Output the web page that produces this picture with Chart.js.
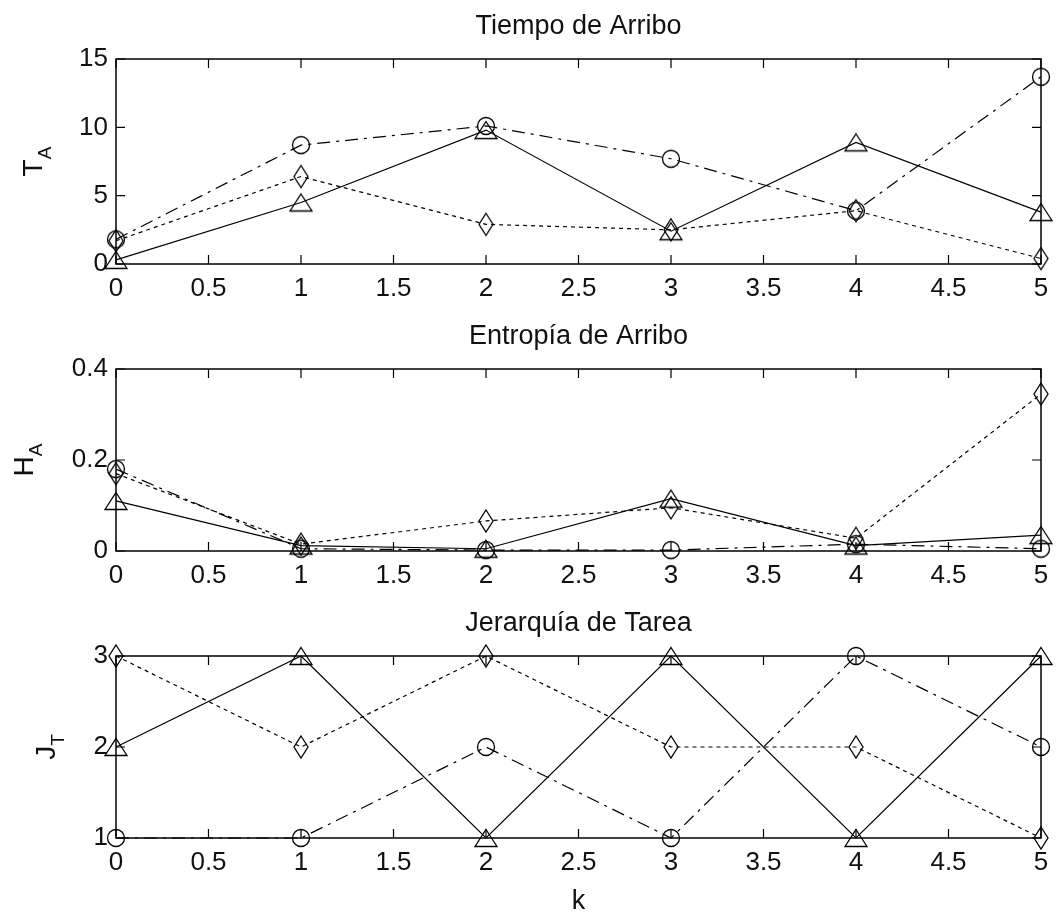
<!DOCTYPE html>
<html>
<head>
<meta charset="utf-8">
<script src="https://cdn.jsdelivr.net/npm/chart.js@4.4.0/dist/chart.umd.min.js"></script>
<style>
  body { margin: 0; background: #fff; width: 1058px; height: 916px; overflow: hidden; position: relative; }
  canvas { position: absolute; left: 0; }
</style>
</head>
<body>
<canvas id="c1" width="1058" height="310" style="top:0px"></canvas>
<canvas id="c2" width="1058" height="300" style="top:310px"></canvas>
<canvas id="c3" width="1058" height="306" style="top:610px"></canvas>
<script>
// values
const kValues = [0, 1, 2, 3, 4, 5];

const tiempoTri  = [0.3, 4.5, 9.8, 2.4, 8.9, 3.8];
const tiempoCirc = [1.8, 8.7, 10.1, 7.7, 3.9, 13.7];
const tiempoDiam = [1.7, 6.4, 2.9, 2.5, 3.9, 0.4];

const entropiaTri  = [0.11, 0.012, 0.005, 0.115, 0.012, 0.035];
const entropiaCirc = [0.18, 0.005, 0.002, 0.002, 0.015, 0.005];
const entropiaDiam = [0.17, 0.015, 0.066, 0.095, 0.028, 0.345];

const jerarquiaTri  = [2, 3, 1, 3, 1, 3];
const jerarquiaCirc = [1, 1, 2, 1, 3, 2];
const jerarquiaDiam = [3, 2, 3, 2, 2, 1];

const FONT = '"Liberation Sans", Arial, sans-serif';

// hollow markers like matlab's ^ o d
function makeMarker(kind) {
  const c = document.createElement('canvas');
  c.width = 28; c.height = 28;
  const g = c.getContext('2d');
  g.strokeStyle = '#000';
  g.lineWidth = 1.3;
  g.beginPath();
  if (kind === 'circle') {
    g.arc(14, 14, 8.5, 0, Math.PI * 2);
  } else if (kind === 'triangle') {
    g.moveTo(14, 5.5); g.lineTo(25, 22.5); g.lineTo(3, 22.5); g.closePath();
  } else {
    g.moveTo(14, 3); g.lineTo(21, 14); g.lineTo(14, 25); g.lineTo(7, 14); g.closePath();
  }
  g.stroke();
  return c;
}
const triMarker = makeMarker('triangle');
const circMarker = makeMarker('circle');
const diamMarker = makeMarker('diamond');

function series(values, marker, dash) {
  return {
    data: kValues.map((x, i) => ({ x: x, y: values[i] })),
    borderColor: '#000',
    borderWidth: 1.2,
    borderDash: dash,
    pointStyle: marker,
    pointRadius: 8,
    tension: 0,
    clip: false
  };
}

const framePlugin = {
  id: 'frame',
  beforeDatasetsDraw(chart, args, opts) {
    const { ctx, chartArea: a, scales: { x, y } } = chart;
    ctx.save();
    ctx.strokeStyle = '#000';
    ctx.lineWidth = 1.5;
    ctx.strokeRect(a.left, a.top, a.right - a.left, a.bottom - a.top);
    ctx.lineWidth = 1.2;
    ctx.beginPath();
    x.ticks.forEach(t => {
      const px = x.getPixelForValue(t.value);
      ctx.moveTo(px, a.bottom); ctx.lineTo(px, a.bottom - 9);
      ctx.moveTo(px, a.top); ctx.lineTo(px, a.top + 9);
    });
    y.ticks.forEach(t => {
      const py = y.getPixelForValue(t.value);
      ctx.moveTo(a.left, py); ctx.lineTo(a.left + 9, py);
      ctx.moveTo(a.right, py); ctx.lineTo(a.right - 9, py);
    });
    ctx.stroke();

    ctx.fillStyle = '#111';
    ctx.font = '27px ' + FONT;
    ctx.textAlign = 'center';
    ctx.textBaseline = 'alphabetic';
    const cx = (a.left + a.right) / 2;
    ctx.fillText(opts.title, cx, a.top - 25);
    if (opts.xLabel) ctx.fillText(opts.xLabel, cx, a.bottom + 71);

    // y label with subscript, rotated
    ctx.font = '28px ' + FONT;
    const wMain = ctx.measureText(opts.yMain).width;
    ctx.font = '19px ' + FONT;
    const wSub = ctx.measureText(opts.ySub).width;
    const total = wMain + wSub;
    ctx.translate(a.left - opts.yGap, (a.top + a.bottom) / 2);
    ctx.rotate(-Math.PI / 2);
    ctx.textAlign = 'left';
    ctx.font = '28px ' + FONT;
    ctx.fillText(opts.yMain, -total / 2, 0);
    ctx.font = '19px ' + FONT;
    ctx.fillText(opts.ySub, -total / 2 + wMain, 9);
    ctx.restore();
  }
};

function makeChart(id, datasets, yMin, yMax, yStep, cfg) {
  return new Chart(document.getElementById(id), {
    type: 'line',
    data: { datasets: datasets },
    plugins: [framePlugin],
    options: {
      responsive: false,
      animation: false,
      events: [],
      layout: { padding: { left: 0, right: 17, top: cfg.top, bottom: 0 } },
      plugins: {
        legend: { display: false },
        tooltip: { enabled: false },
        frame: cfg
      },
      scales: {
        x: {
          type: 'linear', min: 0, max: 5,
          grid: { display: false, drawTicks: false },
          border: { display: false },
          ticks: {
            stepSize: 0.5, color: '#111', padding: 9, maxRotation: 0, autoSkip: false,
            font: { family: FONT, size: 26 },
            callback: v => String(v)
          },
          afterFit: s => { s.height = cfg.xHeight; }
        },
        y: {
          type: 'linear', min: yMin, max: yMax,
          grid: { display: false, drawTicks: false },
          border: { display: false },
          ticks: {
            stepSize: yStep, color: '#111', padding: 8,
            font: { family: FONT, size: 26 },
            callback: v => String(v)
          },
          afterFit: s => { s.width = 116; }
        }
      }
    }
  });
}

const dashDot = [13, 6, 3, 6];
const dotted = [4, 4];

makeChart('c1', [
  series(tiempoTri, triMarker, []),
  series(tiempoCirc, circMarker, dashDot),
  series(tiempoDiam, diamMarker, dotted)
], 0, 15, 5, { top: 59, xHeight: 46, title: 'Tiempo de Arribo', yMain: 'T', ySub: 'A', yGap: 74 });

makeChart('c2', [
  series(entropiaTri, triMarker, []),
  series(entropiaCirc, circMarker, dashDot),
  series(entropiaDiam, diamMarker, dotted)
], 0, 0.4, 0.2, { top: 59, xHeight: 59, title: 'Entropía de Arribo', yMain: 'H', ySub: 'A', yGap: 83 });

makeChart('c3', [
  series(jerarquiaTri, triMarker, []),
  series(jerarquiaCirc, circMarker, dashDot),
  series(jerarquiaDiam, diamMarker, dotted)
], 1, 3, 1, { top: 46, xHeight: 78, title: 'Jerarquía de Tarea', yMain: 'J', ySub: 'T', yGap: 61, xLabel: 'k' });
</script>
</body>
</html>
